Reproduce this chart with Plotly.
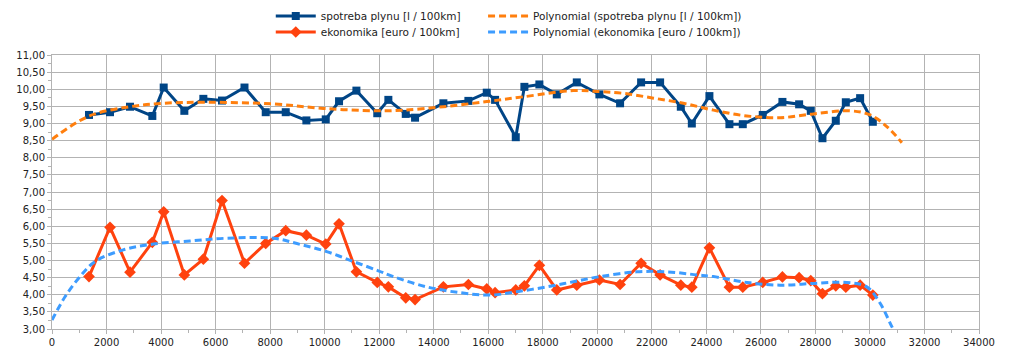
import plotly.graph_objects as go

# distance [km]
km = [1357, 2128, 2861, 3680, 4097, 4854, 5551, 6236, 7060, 7839, 8573, 9330,
      10040, 10528, 11165, 11930, 12337, 12975, 13316, 14355, 15272, 15946,
      16251, 17010, 17326, 17876, 18514, 19248, 20077, 20836, 21607, 22304,
      23063, 23467, 24112, 24846, 25336, 26069, 26790, 27403, 27830, 28258,
      28747, 29115, 29640, 30106]

spotreba = [9.25, 9.33, 9.49, 9.22, 10.05, 9.37, 9.72, 9.67, 10.05, 9.33, 9.33,
            9.09, 9.12, 9.65, 9.96, 9.30, 9.69, 9.28, 9.17, 9.59, 9.66, 9.90,
            9.69, 8.60, 10.07, 10.14, 9.85, 10.20, 9.85, 9.59, 10.20, 10.20,
            9.49, 9.00, 9.80, 8.98, 8.98, 9.25, 9.63, 9.56, 9.37, 8.57, 9.08,
            9.62, 9.74, 9.05]

ekonomika = [4.53, 5.97, 4.66, 5.53, 6.42, 4.58, 5.04, 6.75, 4.92, 5.50, 5.87,
             5.74, 5.48, 6.07, 4.67, 4.36, 4.23, 3.91, 3.86, 4.23, 4.30, 4.17,
             4.06, 4.14, 4.26, 4.86, 4.14, 4.28, 4.43, 4.30, 4.92, 4.58, 4.28,
             4.22, 5.37, 4.22, 4.22, 4.36, 4.52, 4.50, 4.41, 4.03, 4.26, 4.22,
             4.28, 3.99]

# polynomial trend lines
trend1_km = [0, 1369, 2861, 4097, 5675, 8120, 9952, 11911, 12890, 14355, 15946,
             17290, 19120, 20103, 20959, 22060, 23159, 24259, 25484, 26706,
             27928, 29273, 30007, 30619, 31170]
trend1_val = [8.54, 9.22, 9.49, 9.59, 9.62, 9.57, 9.44, 9.37, 9.39, 9.49, 9.64,
              9.78, 9.96, 9.93, 9.88, 9.74, 9.59, 9.39, 9.22, 9.17, 9.28, 9.37,
              9.25, 8.91, 8.44]

trend2_km = [0, 477, 1027, 1577, 2615, 3716, 5062, 6408, 8120, 9097, 10076,
             11053, 11970, 12520, 13745, 14967, 16067, 17046, 18147, 19123,
             20103, 21448, 22549, 23650, 24259, 25484, 26706, 27928, 29151,
             29885, 30374, 30803, 30950]
trend2_val = [3.26, 3.94, 4.53, 4.97, 5.31, 5.48, 5.57, 5.65, 5.65, 5.47, 5.26,
              4.97, 4.70, 4.53, 4.23, 4.06, 3.99, 4.09, 4.23, 4.38, 4.53, 4.67,
              4.67, 4.58, 4.53, 4.36, 4.28, 4.33, 4.36, 4.23, 3.75, 3.07, 2.85]

x_ticks = list(range(0, 34001, 2000))

BLUE = "#004586"
RED = "#ff420e"
ORANGE = "#ff7f0e"
LBLUE = "#3d9cff"
FONT = "DejaVu Sans"
TXT = "#222222"

fig = go.Figure()
fig.add_trace(go.Scatter(
    x=km, y=spotreba, mode="lines+markers", name="spotreba plynu [l / 100km]",
    line=dict(color=BLUE, width=3),
    marker=dict(symbol="square", size=8, color=BLUE),
    legend="legend"))
fig.add_trace(go.Scatter(
    x=km, y=ekonomika, mode="lines+markers", name="ekonomika [euro / 100km]",
    line=dict(color=RED, width=3),
    marker=dict(symbol="diamond", size=9, color=RED),
    legend="legend2"))
fig.add_trace(go.Scatter(
    x=trend1_km, y=trend1_val, mode="lines",
    name="Polynomial (spotreba plynu [l / 100km])",
    line=dict(color=ORANGE, width=3, dash="7px,4px", shape="spline", smoothing=1),
    legend="legend3"))
fig.add_trace(go.Scatter(
    x=trend2_km, y=trend2_val, mode="lines",
    name="Polynomial (ekonomika [euro / 100km])",
    line=dict(color=LBLUE, width=3, dash="7px,4px", shape="spline", smoothing=1),
    legend="legend4"))

GRID = "#b3b3b3"
lc = dict(orientation="h", xanchor="left", yanchor="middle",
          font=dict(family=FONT, size=10.5, color=TXT),
          bgcolor="rgba(0,0,0,0)", itemwidth=40)

X1, X2 = 0.236, 0.465
Y1, Y2 = 1.142, 1.084

# the page body adds an 8px offset, so the figure is 8px smaller
fig.update_layout(
    width=1016, height=349,
    margin=dict(l=44, r=45, t=47, b=28, autoexpand=False),
    paper_bgcolor="white", plot_bgcolor="white",
    separators=",.",
    font=dict(family=FONT, size=10, color=TXT),
    showlegend=True,
    legend=dict(x=X1, y=Y1, **lc),
    legend2=dict(x=X1, y=Y2, **lc),
    legend3=dict(x=X2, y=Y1, **lc),
    legend4=dict(x=X2, y=Y2, **lc),
    xaxis=dict(range=[0, 34000], tickvals=x_ticks, tickformat="d",
               showgrid=True, gridcolor=GRID, gridwidth=1,
               showline=True, linecolor=GRID, mirror=True,
               ticks="outside", ticklen=4, tickcolor=GRID,
               minor=dict(dtick=1000, ticks="outside", ticklen=3,
                          tickcolor=GRID, showgrid=False),
               zeroline=False,
               tickfont=dict(family=FONT, size=10, color=TXT)),
    yaxis=dict(range=[3, 11], dtick=0.5, tick0=3, tickformat=".2f",
               showgrid=True, gridcolor=GRID, gridwidth=1,
               showline=True, linecolor=GRID, mirror=True,
               ticks="outside", ticklen=4, tickcolor=GRID,
               minor=dict(dtick=0.25, ticks="outside", ticklen=3,
                          tickcolor=GRID, showgrid=False),
               zeroline=False,
               tickfont=dict(family=FONT, size=10, color=TXT)),
)

fig.write_html("out.html")
